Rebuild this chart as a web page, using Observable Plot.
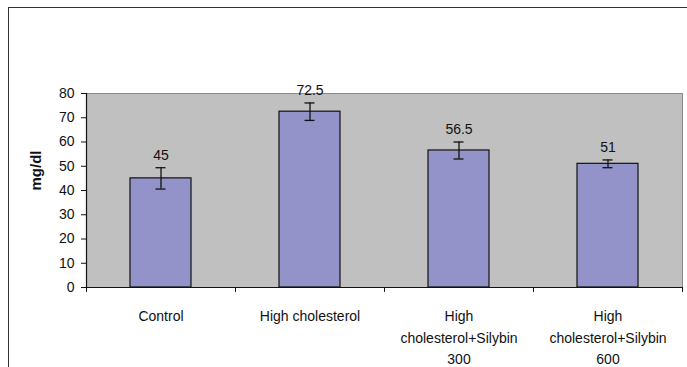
<!DOCTYPE html>
<html><head><meta charset="utf-8">
<script src="https://cdn.jsdelivr.net/npm/d3@7"></script>
<script src="https://cdn.jsdelivr.net/npm/@observablehq/plot@0.6"></script>
<style>
body{margin:0;background:#fff;}
#wrap{position:relative;width:687px;height:367px;overflow:hidden;}
#wrap svg{position:absolute;left:0;top:0;}
#border{position:absolute;left:8px;top:7px;width:720px;height:420px;border-left:1.5px solid #333;border-top:1.5px solid #333;pointer-events:none;}
</style></head><body><div id="wrap"></div>
<script>
const categories = ["Control", "High cholesterol", "High cholesterol+Silybin 300", "High cholesterol+Silybin 600"];
const tickLabels = ["Control", "High cholesterol", "High\ncholesterol+Silybin\n300", "High\ncholesterol+Silybin\n600"];
const means = [45, 72.5, 56.5, 51];
const errors = [4.4, 3.6, 3.5, 1.6];
const yTicks = [0, 10, 20, 30, 40, 50, 60, 70, 80];
const yLabel = "mg/dl";

const data = categories.map((c, i) => ({cat: c, mean: means[i], err: errors[i]}));
const W = 687, H = 367, ML = 86, MR = 5, MT = 93, MB = 80;
const step = (W - ML - MR) / categories.length;
const ink = "#111";

const chart = Plot.plot({
  width: W, height: H,
  marginLeft: ML, marginRight: MR, marginTop: MT, marginBottom: MB,
  style: {fontFamily: "'Liberation Sans', Arial, sans-serif", fontSize: "14px", color: ink, background: "transparent"},
  x: {domain: categories, paddingInner: 0.59, paddingOuter: 0.295, axis: null},
  y: {domain: [0, 80], axis: null},
  marks: [
    Plot.frame({fill: "#c0c0c0", stroke: "#8a8a8a"}),
    Plot.barY(data, {x: "cat", y: "mean", fill: "#9393c9", stroke: ink, strokeWidth: 1.2}),
    Plot.ruleX(data, {x: "cat", y1: d => d.mean - d.err, y2: d => d.mean + d.err, stroke: ink, strokeWidth: 1.3}),
    Plot.tickY(data, {x: "cat", y: d => d.mean + d.err, insetLeft: 25.5, insetRight: 25.5, stroke: ink, strokeWidth: 1.3}),
    Plot.tickY(data, {x: "cat", y: d => d.mean - d.err, insetLeft: 25.5, insetRight: 25.5, stroke: ink, strokeWidth: 1.3}),
    Plot.text(data, {x: "cat", y: d => d.mean + d.err, text: d => String(d.mean), lineAnchor: "bottom", dy: -8, fontSize: 14, fill: ink}),
    Plot.ruleY([0], {stroke: ink, strokeWidth: 1.2}),
    Plot.ruleX([categories[0]], {x: d => d, y1: 0, y2: 80, dx: -step / 2, stroke: ink, strokeWidth: 1.2}),
    Plot.ruleX(categories, {x: d => d, y1: -2, y2: 0, dx: -step / 2, stroke: ink}),
    Plot.ruleX([categories[categories.length - 1]], {x: d => d, y1: -2, y2: 0, dx: step / 2, stroke: ink}),
    Plot.axisY({ticks: yTicks, tickSize: 5, tickPadding: 7, fontSize: 14, label: null, stroke: ink}),
    Plot.axisX({tickSize: 0, tickPadding: 18, fontSize: 14, lineHeight: 1.55, label: null,
      tickFormat: d => tickLabels[categories.indexOf(d)]}),
    Plot.text([yLabel], {frameAnchor: "left", text: d => d, rotate: -90, dx: -50, fontWeight: "bold", fontSize: 15, fill: ink})
  ]
});
const wrap = document.getElementById("wrap");
wrap.appendChild(chart);
const b = document.createElement("div");
b.id = "border";
wrap.appendChild(b);
</script>
</body></html>
